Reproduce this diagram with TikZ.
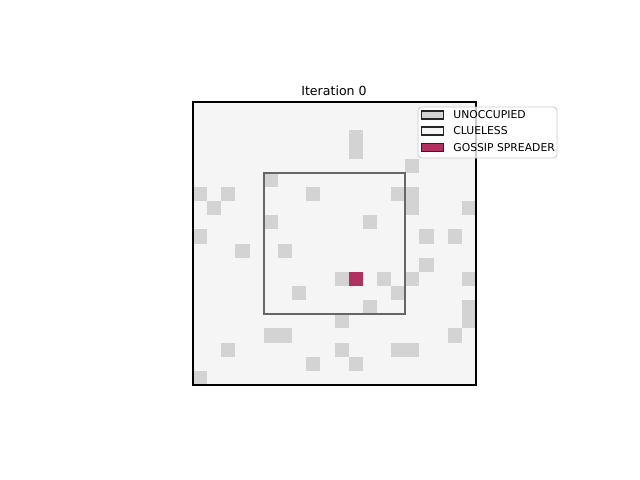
\documentclass[tikz,border=0pt]{standalone}
\usepackage{fontspec}
\setmainfont{DejaVu Sans}
\usepackage{xcolor}
\usepackage{tikz}
\usetikzlibrary{positioning}
\definecolor{cluelessgray}{HTML}{F5F5F5}
\definecolor{emptygray}{HTML}{D3D3D3}
\definecolor{gossipred}{HTML}{B03060}
\tikzset{
    emptycell/.style={fill=emptygray, draw=none},
    spreadercell/.style={fill=gossipred, draw=none},
    patch/.style={draw=black!85, line width=0.6pt, minimum width=22*0.02cm, minimum height=8*0.02cm, inner sep=0pt},
    legtext/.style={font=\fontsize{6.15}{7.5}\selectfont, anchor=west, inner sep=0pt},
}
\def\cs{14.15}

\begin{document}
\begin{tikzpicture}[x=0.02cm, y=-0.02cm]
    \useasboundingbox (0,0) rectangle (640,480);
    % Grid background (clueless cells)
    \fill[cluelessgray] (193,102) rectangle (476,385);
    % Unoccupied cells
    \foreach \c/\r in {11/2, 11/3, 15/4, 5/5, 0/6, 2/6, 8/6, 14/6, 15/6, 15/7, 1/7, 19/7,
        5/8, 12/8, 0/9, 16/9, 18/9, 3/10, 6/10, 16/11, 10/12, 13/12, 15/12, 19/12,
        7/13, 14/13, 12/14, 19/14, 19/15, 10/15, 5/16, 6/16, 18/16, 2/17, 10/17,
        14/17, 15/17, 8/18, 11/18, 0/19}
        \path[emptycell] ({193+\c*\cs},{102+\r*\cs}) rectangle +(\cs,\cs);
    % Gossip spreader
    \path[spreadercell] ({193+11*\cs},{102+12*\cs}) rectangle +(\cs,\cs);
    % Inner square
    \draw[black!60, line width=1.1pt] ({193+5*\cs},{102+5*\cs}) rectangle ({193+15*\cs},{102+15*\cs});
    % Axes frame
    \draw[black, line width=0.8pt] (193,102) rectangle (476,385);
    % Title
    \node[font=\fontsize{7.15}{9}\selectfont, anchor=base, inner sep=0pt] (title) at (334,95) {Iteration 0};
    % Legend
    \draw[draw=black!20, fill=white, fill opacity=0.8, rounded corners=2pt, line width=0.5pt] (418,107) rectangle (557,158);
    \node[patch, fill=emptygray] (p1) at (432.5,115) {};
    \node[patch, fill=cluelessgray] (p2) at (432.5,131) {};
    \node[patch, fill=gossipred] (p3) at (432.5,147.5) {};
    \node[legtext, right=9*0.02cm of p1] (l1) {UNOCCUPIED};
    \node[legtext, right=9*0.02cm of p2] (l2) {CLUELESS};
    \node[legtext, right=9*0.02cm of p3] (l3) {GOSSIP SPREADER};
\end{tikzpicture}
\end{document}
